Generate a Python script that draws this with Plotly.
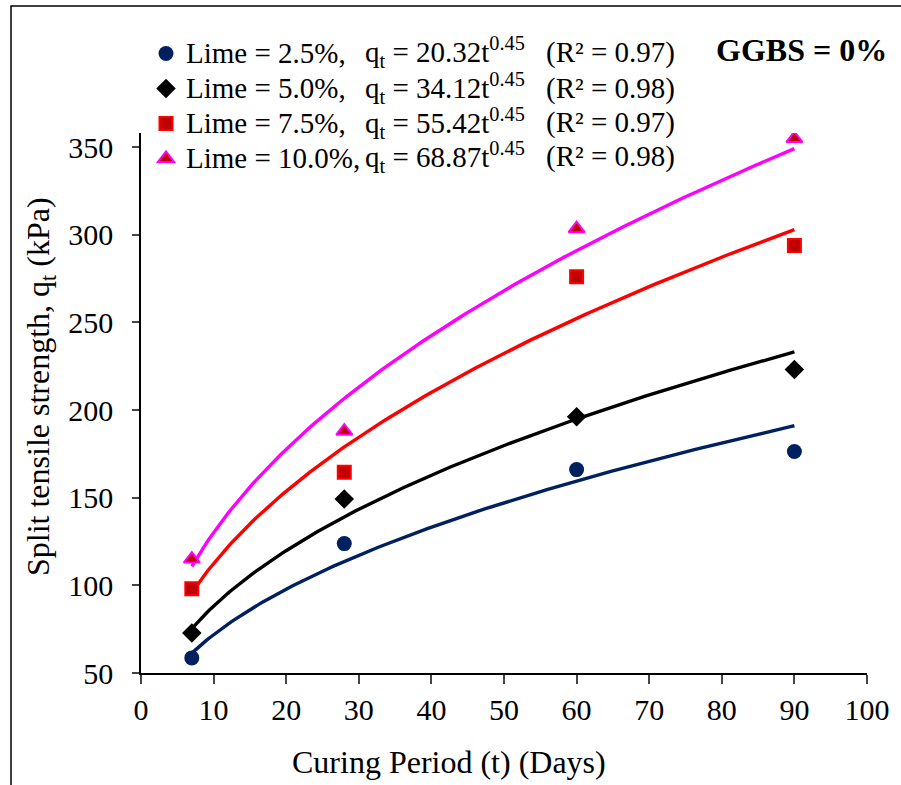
import numpy as np
import plotly.graph_objects as go

# Curing periods (days) and split tensile strength (kPa) per lime content
days = [7, 28, 60, 90]
lime_2_5 = [58.6, 123.8, 166.0, 176.3]
lime_5_0 = [72.8, 149.3, 196.1, 223.1]
lime_7_5 = [98.1, 164.5, 276.0, 293.9]
lime_10_0 = [115.0, 187.9, 303.4, 354.8]

legend_names = ["Lime = 2.5%,", "Lime = 5.0%,", "Lime = 7.5%,", "Lime = 10.0%,"]
equations = ["q<sub>t</sub> = 20.32t<sup>0.45</sup>",
             "q<sub>t</sub> = 34.12t<sup>0.45</sup>",
             "q<sub>t</sub> = 55.42t<sup>0.45</sup>",
             "q<sub>t</sub> = 68.87t<sup>0.45</sup>"]
r_squared = ["(R² = 0.97)", "(R² = 0.98)", "(R² = 0.97)", "(R² = 0.98)"]

x_ticks = list(range(0, 101, 10))
y_ticks = list(range(50, 351, 50))

W, H = 901, 785
ML, MR, MT, MB = 141, 34, 133, 112
PW, PH = W - ML - MR, H - MT - MB

def px_x(p):
    return (p - ML) / PW

def px_y(p):
    return (H - MB - p) / PH

FONT = "Liberation Serif, Times New Roman, serif"
TEXT_SIZE = 29      # legend, equations
TICK_SIZE = 30
TITLE_SIZE = 32

series = [
    dict(y=lime_2_5, symbol="circle", fill="#002060", edge="#002060", line="#002060", size=15),
    dict(y=lime_5_0, symbol="diamond", fill="#000000", edge="#000000", line="#000000", size=15),
    dict(y=lime_7_5, symbol="square", fill="#C00000", edge="#FF0000", line="#FF0000", size=13),
    dict(y=lime_10_0, symbol="triangle-up", fill="#C00000", edge="#FF00FF", line="#FF00FF", size=14),
]

fig = go.Figure()

# Power-law trendlines (least squares in log-log space), from first to last day
t_fit = np.linspace(min(days), max(days), 200)
for s in series:
    b, ln_a = np.polyfit(np.log(days), np.log(s["y"]), 1)
    fig.add_trace(go.Scatter(
        x=t_fit, y=np.exp(ln_a) * t_fit ** b, mode="lines",
        line=dict(color=s["line"], width=3.4), showlegend=False, hoverinfo="skip"))

# Measured values
for s, name in zip(series, legend_names):
    fig.add_trace(go.Scatter(
        x=days, y=s["y"], mode="markers",
        name=f'<span style="font-size:{TEXT_SIZE}px">{name}</span>',
        marker=dict(symbol=s["symbol"], size=s["size"], color=s["fill"],
                    line=dict(color=s["edge"], width=2 if s["edge"] != s["fill"] else 0))))

annotations = []
row_y = [52, 88, 123, 157]
for i, ry in enumerate(row_y):
    annotations.append(dict(x=px_x(363), y=px_y(ry), xref="paper", yref="paper",
                            text=equations[i], showarrow=False, xanchor="left", yanchor="middle",
                            font=dict(family=FONT, size=TEXT_SIZE, color="#000000")))
    annotations.append(dict(x=px_x(544), y=px_y(ry), xref="paper", yref="paper",
                            text=r_squared[i], showarrow=False, xanchor="left", yanchor="middle",
                            font=dict(family=FONT, size=TEXT_SIZE, color="#000000")))

annotations.append(dict(x=px_x(889), y=px_y(50), xref="paper", yref="paper",
                        text="<b>GGBS = 0%</b>", showarrow=False, xanchor="right", yanchor="middle",
                        font=dict(family=FONT, size=TITLE_SIZE, color="#000000")))

# Axis titles
annotations.append(dict(x=px_x(449), y=px_y(762), xref="paper", yref="paper",
                        text="Curing Period (t) (Days)", showarrow=False,
                        xanchor="center", yanchor="middle",
                        font=dict(family=FONT, size=TITLE_SIZE, color="#000000")))
annotations.append(dict(x=px_x(40), y=px_y(387), xref="paper", yref="paper",
                        text="Split tensile strength, q<sub>t</sub> (kPa)", showarrow=False,
                        textangle=-90, xanchor="center", yanchor="middle",
                        font=dict(family=FONT, size=TITLE_SIZE, color="#000000")))

fig.update_layout(
    width=W, height=H,
    margin=dict(l=ML, r=MR, t=MT, b=MB, pad=0),
    paper_bgcolor="white", plot_bgcolor="white",
    font=dict(family=FONT, size=TEXT_SIZE, color="#000000"),
    annotations=annotations,
    legend=dict(x=px_x(146), y=px_y(31), xanchor="left", yanchor="top",
                bgcolor="rgba(0,0,0,0)", font=dict(family=FONT, size=24.6),
                itemsizing="trace", tracegroupgap=0),
    shapes=[dict(type="rect", xref="paper", yref="paper",
                 x0=px_x(11), x1=px_x(W + 20), y0=px_y(H + 20), y1=px_y(6),
                 line=dict(color="#000000", width=1.5), fillcolor="rgba(0,0,0,0)", layer="below")],
    xaxis=dict(range=[0, 100], tickvals=x_ticks, ticks="outside", ticklen=9, tickwidth=1.5,
               showline=True, linecolor="#000000", linewidth=1.5, showgrid=False, zeroline=False,
               tickfont=dict(family=FONT, size=TICK_SIZE), ticklabelstandoff=0),
    yaxis=dict(range=[50, 358], tickvals=y_ticks, ticks="outside", ticklen=7, tickwidth=1.5,
               showline=True, linecolor="#000000", linewidth=1.5, showgrid=False, zeroline=False,
               tickfont=dict(family=FONT, size=TICK_SIZE), ticklabelstandoff=13),
)

fig.write_html("out.html")
